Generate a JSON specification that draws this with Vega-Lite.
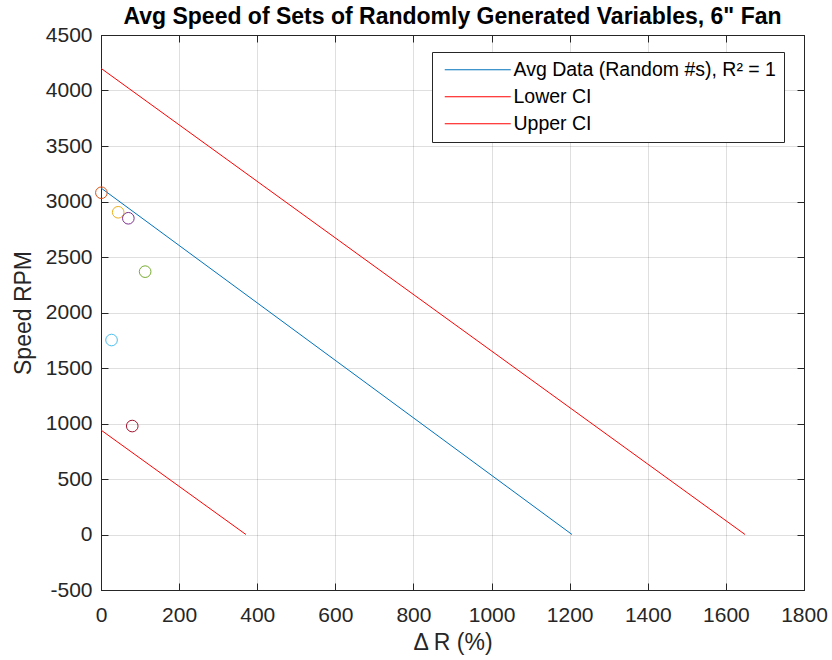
{
  "$schema": "https://vega.github.io/schema/vega-lite/v6.json",
  "autosize": {"type": "none"},
  "width": 703,
  "height": 555,
  "padding": {"left": 101, "top": 35, "right": 28, "bottom": 70},
  "background": "white",
  "config": {
    "font": "Liberation Sans",
    "view": {"stroke": "#262626", "strokeWidth": 1},
    "axis": {
      "labelFont": "Liberation Sans",
      "labelFontSize": 21,
      "labelColor": "#262626",
      "titleFont": "Liberation Sans",
      "titleFontSize": 23,
      "titleFontWeight": "normal",
      "titleColor": "#262626",
      "domainColor": "#262626",
      "tickColor": "#262626",
      "gridColor": "#262626",
      "gridOpacity": 0.15,
      "tickSize": -7,
      "labelExpr": "'' + datum.value"
    }
  },
  "title": {
    "text": "Avg Speed of Sets of Randomly Generated Variables, 6\" Fan",
    "font": "Liberation Sans",
    "fontSize": 23,
    "fontWeight": "bold",
    "color": "#000000",
    "anchor": "middle",
    "offset": 2,
    "dy": 7
  },
  "datasets": {
    "lines": [
      {"series": "Avg Data (Random #s), R² = 1", "x": 0, "y": 3122},
      {"series": "Avg Data (Random #s), R² = 1", "x": 1206, "y": 0},
      {"series": "Lower CI", "x": 0, "y": 941},
      {"series": "Lower CI", "x": 371, "y": 0},
      {"series": "Upper CI", "x": 0, "y": 4200},
      {"series": "Upper CI", "x": 1649, "y": 0}
    ],
    "points": [
      {"set": "1", "x": 1, "y": 3079},
      {"set": "2", "x": 44, "y": 2903},
      {"set": "3", "x": 70, "y": 2849},
      {"set": "4", "x": 113, "y": 2368},
      {"set": "5", "x": 27, "y": 1752},
      {"set": "6", "x": 80, "y": 977}
    ]
  },
  "layer": [
    {
      "data": {"name": "lines"},
      "mark": {"type": "line", "strokeWidth": 1, "clip": true},
      "encoding": {
        "x": {
          "field": "x", "type": "quantitative",
          "scale": {"domain": [0, 1800], "nice": false, "zero": false},
          "axis": {"title": "Δ R (%)", "values": [0, 200, 400, 600, 800, 1000, 1200, 1400, 1600, 1800], "labelPadding": 21, "titlePadding": 6, "labelFlush": false}
        },
        "y": {
          "field": "y", "type": "quantitative",
          "scale": {"domain": [-500, 4500], "nice": false, "zero": false},
          "axis": {"title": "Speed RPM", "values": [-500, 0, 500, 1000, 1500, 2000, 2500, 3000, 3500, 4000, 4500], "labelPadding": 16, "titlePadding": 10, "labelFlush": false}
        },
        "color": {
          "field": "series", "type": "nominal",
          "scale": {"domain": ["Avg Data (Random #s), R² = 1", "Lower CI", "Upper CI"], "range": ["#0072BD", "#FF0000", "#FF0000"]},
          "legend": {
            "title": null,
            "orient": "none",
            "legendX": 331,
            "legendY": 17,
            "symbolType": "M-1,0H12.2",
            "symbolSize": 100,
            "symbolStrokeWidth": 1,
            "labelFont": "Liberation Sans",
            "labelFontSize": 19.5,
            "labelColor": "#000000",
            "labelOffset": 54,
            "labelLimit": 400,
            "rowPadding": 6,
            "padding": 8,
            "strokeColor": "#262626",
            "fillColor": "white",
            "cornerRadius": 0
          }
        }
      }
    },
    {
      "data": {"name": "points"},
      "mark": {"type": "point", "shape": "circle", "filled": false, "size": 135, "strokeWidth": 1, "opacity": 1},
      "encoding": {
        "x": {"field": "x", "type": "quantitative", "axis": {"orient": "top", "labels": false, "title": null, "grid": false, "values": [0, 200, 400, 600, 800, 1000, 1200, 1400, 1600, 1800]}},
        "y": {"field": "y", "type": "quantitative", "axis": {"orient": "right", "labels": false, "title": null, "grid": false, "values": [-500, 0, 500, 1000, 1500, 2000, 2500, 3000, 3500, 4000, 4500]}},
        "stroke": {
          "field": "set", "type": "nominal",
          "scale": {"domain": ["1", "2", "3", "4", "5", "6"], "range": ["#D95319", "#EDB120", "#7E2F8E", "#77AC30", "#4DBEEE", "#A2142F"]},
          "legend": null
        }
      }
    }
  ],
  "resolve": {"axis": {"x": "independent", "y": "independent"}}
}
